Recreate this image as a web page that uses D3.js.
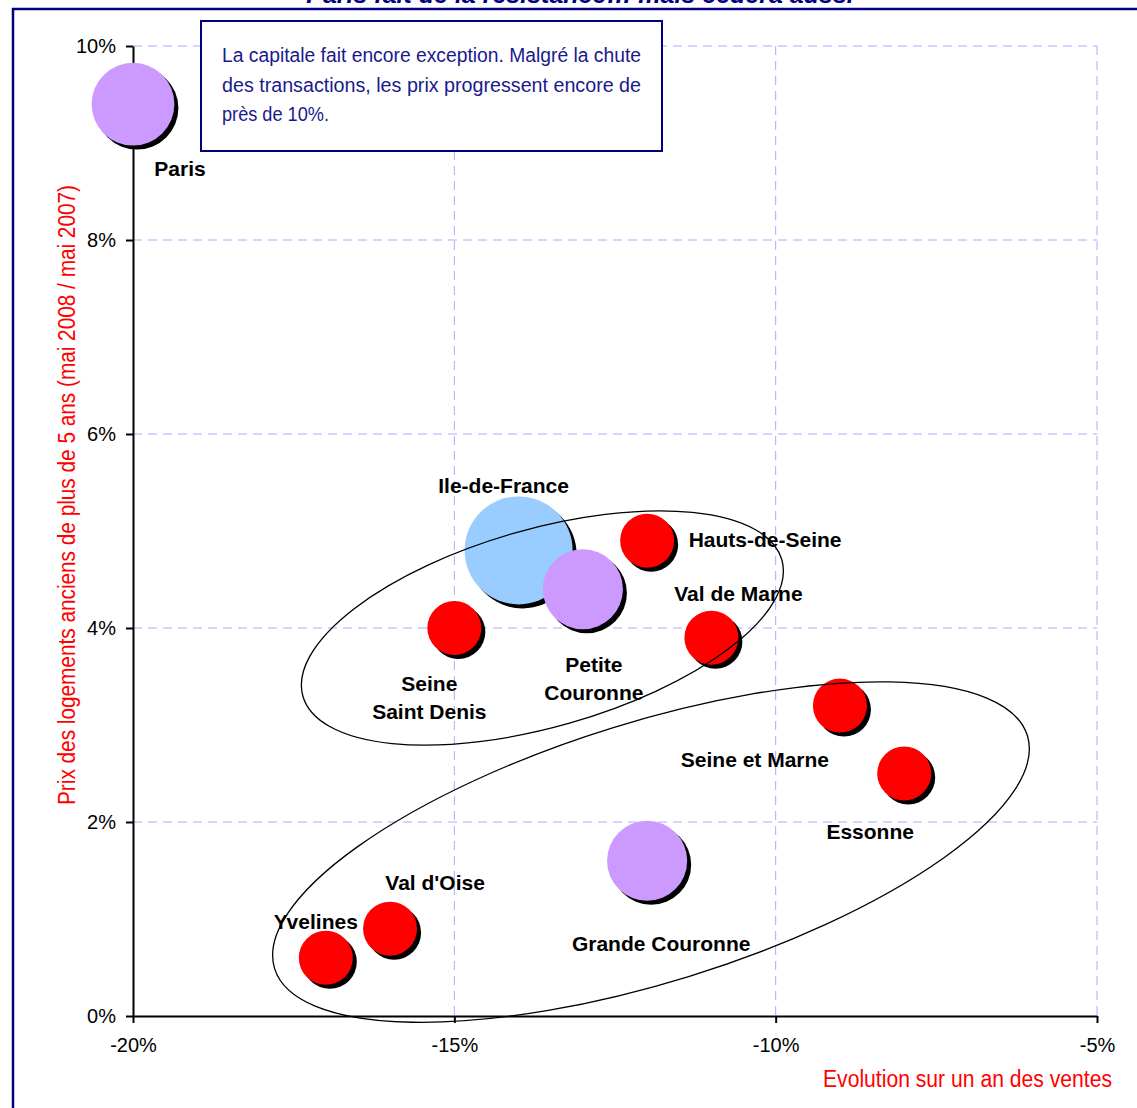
<!DOCTYPE html>
<html><head><meta charset="utf-8">
<script src="https://cdn.jsdelivr.net/npm/d3@7"></script>
<style>body{margin:0;background:#fff}svg{display:block}</style>
</head><body>
<script>
// ---- data ----
const regions = ["Paris","Ile-de-France","Petite Couronne","Hauts-de-Seine","Seine Saint Denis","Val de Marne","Grande Couronne","Seine et Marne","Yvelines","Essonne","Val d'Oise"];
const salesChange = [-20, -14, -13, -12, -15, -11, -12, -9, -17, -8, -16];      // %
const priceChange = [9.4, 4.8, 4.4, 4.9, 4.0, 3.9, 1.6, 3.2, 0.6, 2.5, 0.9];     // %
const bubbleSize  = [2.35, 4.0, 2.2, 1, 1, 1, 2.2, 1, 1, 1, 1];                   // relative volume
const level       = ["zone","region","zone","dept","dept","dept","zone","dept","dept","dept","dept"];
const labelLines  = [["Paris"],["Ile-de-France"],["Petite","Couronne"],["Hauts-de-Seine"],["Seine","Saint Denis"],["Val de Marne"],["Grande Couronne"],["Seine et Marne"],["Yvelines"],["Essonne"],["Val d'Oise"]];
const xTicks = [-20, -15, -10, -5];
const yTicks = [0, 2, 4, 6, 8, 10];
const title = "Paris fait de la résistance… mais cédera aussi";
const noteLines = ["La capitale fait encore exception. Malgré la chute","des transactions, les prix progressent encore de","près de 10%."];
const xTitle = "Evolution sur un an des ventes";
const yTitle = "Prix des logements anciens de plus de 5 ans (mai 2008 / mai 2007)";
// group ellipses: centre in data units
const groupCentreX = [-13.63, -11.94];
const groupCentreY = [4.0, 1.69];

// ---- layout (pixels) ----
const W = 1137, H = 1108;
const labelOffset = [[47,72],[-15,-57],[11,83],[118,6],[-25,63],[27,-37],[14,90],[-85,61],[-10,-29],[-34,65],[45,-39]];
const ellipseShape = [{rx:249,ry:99,rot:-15.9},{rx:394,ry:130,rot:-17.2}];
const noteWidths = [419, 419, 107];

const svg = d3.select("body").append("svg").attr("width",W).attr("height",H);
const x = d3.scaleLinear().domain([-20,-5]).range([133,1097]);
const y = d3.scaleLinear().domain([0,10]).range([1016,46]);
const r = d3.scaleSqrt().domain([0,1]).range([0,27]);
const color = d3.scaleOrdinal().domain(["zone","region","dept"]).range(["#CC99FF","#99CCFF","#FF0000"]);
const sans = "Liberation Sans, Arial, sans-serif";

// frame + title
svg.append("rect").attr("x",13).attr("y",9).attr("width",1300).attr("height",1300)
  .attr("fill","none").attr("stroke","#000080").attr("stroke-width",2.5);
svg.append("text").attr("x",580).attr("y",3).attr("text-anchor","middle")
  .attr("font-family",sans).attr("font-weight","bold").attr("font-style","italic")
  .attr("font-size",25).attr("fill","#000080").text(title);

// grid
const grid = svg.append("g").attr("stroke","#aaaaff").attr("stroke-width",1).attr("stroke-dasharray","9,6");
grid.selectAll("line.h").data(yTicks.filter(d=>d>0)).join("line")
  .attr("x1",x(-20)).attr("x2",x(-5)).attr("y1",d=>y(d)).attr("y2",d=>y(d));
grid.selectAll("line.v").data(xTicks.filter(d=>d>-20)).join("line")
  .attr("x1",d=>x(d)).attr("x2",d=>x(d)).attr("y1",y(10)).attr("y2",y(0));

// axes
const fmt = d=>d+"%";
const gx = svg.append("g").attr("transform",`translate(0,${y(0)})`)
  .call(d3.axisBottom(x).tickValues(xTicks).tickFormat(fmt).tickSize(7).tickSizeOuter(0).tickPadding(15));
const gy = svg.append("g").attr("transform",`translate(${x(-20)},0)`)
  .call(d3.axisLeft(y).tickValues(yTicks).tickFormat(fmt).tickSize(7).tickSizeOuter(0).tickPadding(10));
[gx,gy].forEach(g=>{
  g.select(".domain").attr("stroke","#000").attr("stroke-width",2);
  g.selectAll(".tick line").attr("stroke","#000").attr("stroke-width",2);
  g.selectAll(".tick text").attr("font-family",sans).attr("font-size",20).attr("fill","#000");
});

// note box
svg.append("rect").attr("x",201).attr("y",21).attr("width",461).attr("height",130)
  .attr("fill","#fff").attr("stroke","#000080").attr("stroke-width",2);
noteLines.forEach((line,i)=>{
  svg.append("text").attr("x",222).attr("y",62+i*29.5)
    .attr("font-family",sans).attr("font-size",20).attr("fill","#1a1a8c")
    .attr("textLength",noteWidths[i]).attr("lengthAdjust","spacingAndGlyphs").text(line);
});

// bubbles
const pts = regions.map((n,i)=>({n,i,x:salesChange[i],y:priceChange[i],s:bubbleSize[i],c:color(level[i])}));
const order = [0,3,4,5,7,9,8,10,6,1,2];
const bg = svg.append("g");
order.forEach(i=>{
  const p = pts[i];
  bg.append("circle").attr("cx",x(p.x)+4).attr("cy",y(p.y)+4).attr("r",r(p.s)).attr("fill","#000");
  bg.append("circle").attr("cx",x(p.x)).attr("cy",y(p.y)).attr("r",r(p.s)).attr("fill",p.c);
});

// labels
pts.forEach(p=>{
  const [dx,dy] = labelOffset[p.i];
  const t = svg.append("text").attr("text-anchor","middle")
    .attr("font-family",sans).attr("font-weight","bold").attr("font-size",21).attr("fill","#000");
  labelLines[p.i].forEach((l,k)=>{
    t.append("tspan").attr("x",x(p.x)+dx).attr("y",y(p.y)+dy+k*28).text(l);
  });
});

// group ellipses
ellipseShape.forEach((e,k)=>{
  const cx = x(groupCentreX[k]), cy = y(groupCentreY[k]);
  svg.append("ellipse").attr("cx",cx).attr("cy",cy).attr("rx",e.rx).attr("ry",e.ry)
    .attr("transform",`rotate(${e.rot},${cx},${cy})`)
    .attr("fill","none").attr("stroke","#000").attr("stroke-width",1.3);
});

// axis titles
svg.append("text").attr("x",1112).attr("y",1087).attr("text-anchor","end")
  .attr("font-family",sans).attr("font-size",23).attr("fill","#FF0000")
  .attr("textLength",289).attr("lengthAdjust","spacingAndGlyphs").text(xTitle);
svg.append("text").attr("transform","translate(75,495) rotate(-90)").attr("text-anchor","middle")
  .attr("font-family",sans).attr("font-size",23).attr("fill","#FF0000")
  .attr("textLength",620).attr("lengthAdjust","spacingAndGlyphs").text(yTitle);
</script>
</body></html>
